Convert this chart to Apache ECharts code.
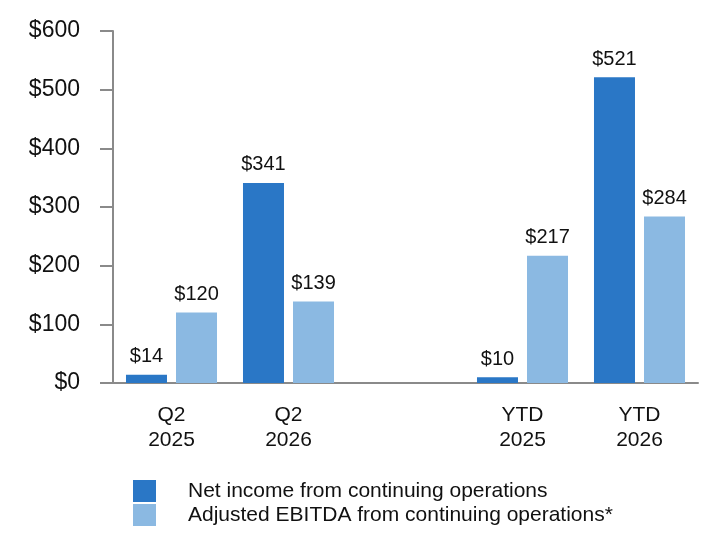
<!DOCTYPE html>
<html>
<head>
<meta charset="utf-8">
<script src="https://cdn.jsdelivr.net/npm/echarts@6/dist/echarts.min.js"></script>
<style>
  html, body { margin: 0; padding: 0; background: #fff; }
  #chart { width: 728px; height: 560px; }
</style>
</head>
<body>
<div id="chart"></div>
<script>
// categories (the empty one makes the gap between Q2 and YTD)
var categories = ['Q2\n2025', 'Q2\n2026', '', 'YTD\n2025', 'YTD\n2026'];
var netIncome = [14, 341, null, 10, 521];
var adjEbitda = [120, 139, null, 217, 284];
var seriesNames = ['Net income from continuing operations', 'Adjusted EBITDA from continuing operations*'];

var font = 'Liberation Sans, Arial, sans-serif';
var chart = echarts.init(document.getElementById('chart'));

var barLabel = {
  show: true,
  position: 'top',
  distance: 8,
  color: '#111',
  fontSize: 20,
  fontFamily: font,
  formatter: function (p) { return '$' + p.value; }
};

var option = {
  animation: false,
  color: ['#2A77C6', '#8BB9E2'],
  grid: { left: 113, right: 30, top: 31, bottom: 177 },
  legend: {
    orient: 'vertical',
    left: 133,
    top: 480,
    padding: 0,
    itemWidth: 23,
    itemHeight: 22,
    itemGap: 2,
    icon: 'rect',
    data: seriesNames,
    textStyle: {
      fontSize: 21,
      fontFamily: font,
      color: '#111',
      padding: [0, 0, 0, 27]
    }
  },
  xAxis: {
    type: 'category',
    data: categories,
    axisLine: { lineStyle: { color: '#8a8a8a', width: 2 } },
    axisTick: { show: false },
    axisLabel: {
      margin: 20,
      fontSize: 21,
      lineHeight: 25,
      fontFamily: font,
      color: '#111',
      interval: 0
    }
  },
  yAxis: {
    type: 'value',
    min: 0,
    max: 600,
    interval: 100,
    splitLine: { show: false },
    axisLine: { show: true, lineStyle: { color: '#8a8a8a', width: 2 } },
    axisTick: { show: true, length: 13, lineStyle: { color: '#8a8a8a', width: 2 } },
    axisLabel: {
      margin: 33,
      fontSize: 23,
      fontFamily: font,
      color: '#111',
      formatter: function (v) { return '$' + v; }
    }
  },
  series: [
    {
      name: seriesNames[0],
      type: 'bar',
      data: netIncome,
      barWidth: 41,
      barGap: '22%',
      label: barLabel
    },
    {
      name: seriesNames[1],
      type: 'bar',
      data: adjEbitda,
      barWidth: 41,
      label: barLabel
    }
  ]
};

chart.setOption(option);
</script>
</body>
</html>
